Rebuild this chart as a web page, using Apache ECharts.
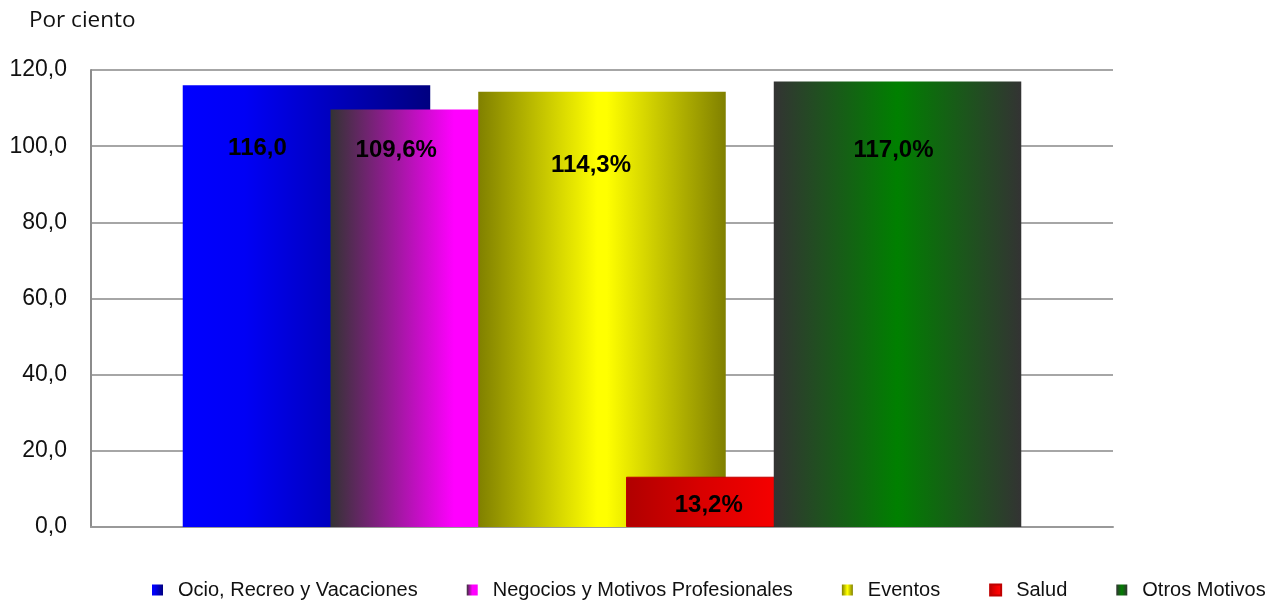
<!DOCTYPE html>
<html>
<head>
<meta charset="utf-8">
<script src="https://cdn.jsdelivr.net/npm/echarts@6/dist/echarts.min.js"></script>
<style>
html,body{margin:0;padding:0;background:#fff;}
#chart{width:1275px;height:600px;}
</style>
</head>
<body>
<div id="chart"></div>
<script>
const categories = [''];
const seriesNames = ['Ocio, Recreo y Vacaciones', 'Negocios y Motivos Profesionales', 'Eventos', 'Salud', 'Otros Motivos'];
const values = [116.0, 109.6, 114.3, 13.2, 117.0];
const labelTexts = ['116,0', '109,6%', '114,3%', '13,2%', '117,0%'];
const yTicks = { min: 0, max: 120, interval: 20 };

const FONT = "'Liberation Sans', Arial, Helvetica, sans-serif";

function grad(stops) {
  return new echarts.graphic.LinearGradient(0, 0, 1, 0, stops.map(s => ({ offset: s[0], color: s[1] })));
}
const fills = [
  grad([[0, '#0000ff'], [0.25, '#0000f5'], [1, '#000080']]),
  grad([[0, '#333333'], [0.5, '#ff00ff'], [1, '#ff00ff']]),
  grad([[0, '#808000'], [0.48, '#ffff00'], [0.52, '#ffff00'], [1, '#808000']]),
  grad([[0, '#b00000'], [0.3, '#d80000'], [0.6, '#f50000'], [1, '#ff0a0a']]),
  grad([[0, '#333333'], [0.5, '#008000'], [1, '#333333']])
];
// blue, magenta, yellow, red, green
const labelDist = [51, 29, 62, 17, 57];
const labelDx = [-49, -58, -11, -41, -4];

const chart = echarts.init(document.getElementById('chart'), null, { renderer: 'canvas' });
const series = seriesNames.map((name, i) => ({
  name: name,
  type: 'bar',
  data: [values[i]],
  barWidth: 247.5,
  barGap: '-40.3%',
  itemStyle: Object.assign({ color: fills[i] }, i === 3 ? { borderColor: '#c00000', borderWidth: 1 } : {}),
  label: {
    show: true,
    position: 'insideTop',
    distance: labelDist[i],
    offset: [labelDx[i], 0],
    formatter: () => labelTexts[i],
    color: '#000',
    fontFamily: FONT,
    fontWeight: 'bold',
    fontSize: 24
  },
  emphasis: { disabled: true },
  animation: false
}));

chart.setOption({
  animation: false,
  title: {
    text: 'Por ciento',
    left: 24,
    top: 4,
    textStyle: { fontFamily: 'Open Sans', fontWeight: 'normal', fontSize: 22.5, color: '#111' }
  },
  grid: { left: 91, right: 162, top: 70, bottom: 73, containLabel: false },
  legend: {
    data: seriesNames,
    icon: 'rect',
    left: 147,
    top: 575,
    itemWidth: 11,
    itemHeight: 11,
    itemGap: 49,
    textStyle: { fontFamily: FONT, fontSize: 20, color: '#111', padding: [0, 0, 0, 10] }
  },
  xAxis: {
    type: 'category',
    data: categories,
    axisLine: { show: true, lineStyle: { color: '#999', width: 2 } },
    axisTick: { show: false },
    axisLabel: { show: false }
  },
  yAxis: {
    type: 'value',
    min: yTicks.min,
    max: yTicks.max,
    interval: yTicks.interval,
    axisLine: { show: true, lineStyle: { color: '#8c8c8c', width: 2 } },
    axisTick: { show: false },
    splitLine: { show: true, lineStyle: { color: '#a6a6a6', width: 2 } },
    axisLabel: {
      margin: 24,
      fontFamily: FONT,
      fontSize: 23,
      color: '#111',
      formatter: v => v.toFixed(1).replace('.', ',')
    }
  },
  series: series
});
</script>
</body>
</html>
